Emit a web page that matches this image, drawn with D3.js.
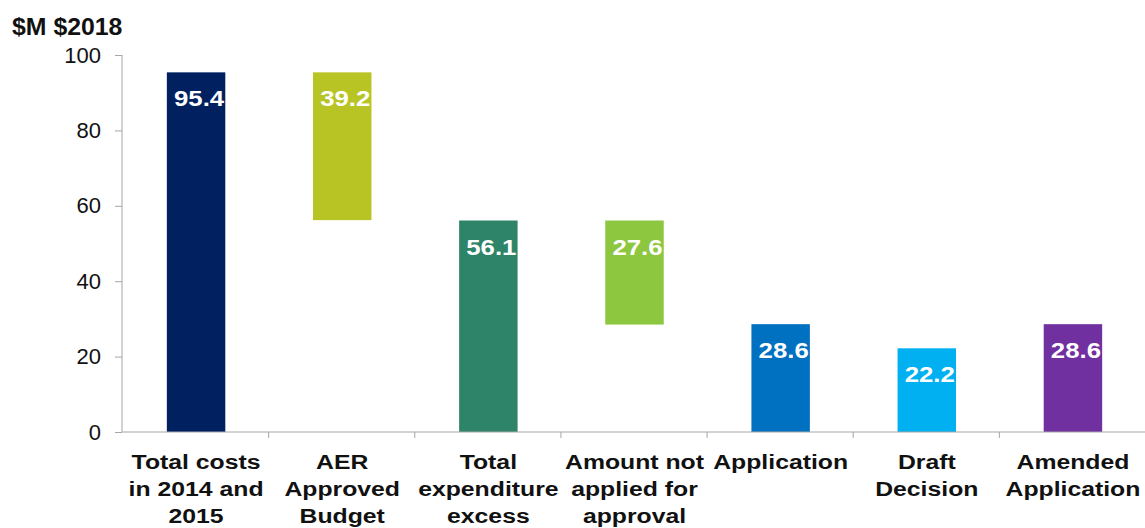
<!DOCTYPE html>
<html>
<head>
<meta charset="utf-8">
<script src="https://cdn.jsdelivr.net/npm/d3@7"></script>
<style>
  body { margin: 0; background: #fff; }
  text { font-family: "Liberation Sans", Arial, sans-serif; }
</style>
</head>
<body>
<div id="chart"></div>
<script>
// waterfall values ($M $2018)
const categories = [
  ["Total costs", "in 2014 and", "2015"],
  ["AER", "Approved", "Budget"],
  ["Total", "expenditure", "excess"],
  ["Amount not", "applied for", "approval"],
  ["Application"],
  ["Draft", "Decision"],
  ["Amended", "Application"]
];
const bases = [0, 56.2, 0, 28.5, 0, 0, 0];
const values = [95.4, 39.2, 56.1, 27.6, 28.6, 22.2, 28.6];
const colors = ["#002060", "#B8C424", "#2E8468", "#8DC63F", "#0070C0", "#00B0F0", "#7030A0"];
const yTicks = [0, 20, 40, 60, 80, 100];

const w = 1145, h = 528;
const plotLeft = 122, plotRight = 1145, plotTop = 55, plotBottom = 432;
const sx = 1.12; // text is a bit wide in the original

const svg = d3.select("#chart").append("svg")
  .attr("width", w)
  .attr("height", h);

const x = d3.scaleBand()
  .domain(d3.range(categories.length))
  .range([plotLeft, plotRight])
  .paddingInner(0.6)
  .paddingOuter(0.3);

const y = d3.scaleLinear().domain([0, 100]).range([plotBottom, plotTop]);

// bars
svg.selectAll("rect.bar")
  .data(values)
  .enter()
  .append("rect")
  .attr("class", "bar")
  .attr("x", (d, i) => x(i) + 1)
  .attr("width", x.bandwidth())
  .attr("y", (d, i) => y(bases[i] + d))
  .attr("height", (d, i) => y(bases[i]) - y(bases[i] + d))
  .attr("fill", (d, i) => colors[i]);

// value labels
svg.selectAll("text.val")
  .data(values)
  .enter()
  .append("text")
  .attr("class", "val")
  .attr("transform", (d, i) => "translate(" + (x(i) + x.bandwidth() / 2 + 4) + "," + (y(bases[i] + d) + 34) + ") scale(" + sx + ",1)")
  .attr("text-anchor", "middle")
  .attr("fill", "#fff")
  .attr("font-weight", "bold")
  .attr("font-size", 23)
  .text(d => d.toFixed(1));

// y axis
const yAxis = svg.append("g")
  .attr("transform", "translate(" + plotLeft + ",0)")
  .call(d3.axisLeft(y).tickValues(yTicks).tickSize(7).tickPadding(14));
yAxis.select(".domain").attr("stroke", "#a6a6a6").attr("d", "M0," + plotTop + "V" + plotBottom);
yAxis.selectAll(".tick line").attr("stroke", "#a6a6a6");
yAxis.selectAll(".tick text")
  .attr("font-size", 22)
  .attr("fill", "#111")
  .attr("font-family", "Liberation Sans, Arial, sans-serif");

// x axis with ticks between categories
const xb = d3.scaleLinear().domain([0, categories.length]).range([plotLeft, plotRight]);
const xAxis = svg.append("g")
  .attr("transform", "translate(0," + plotBottom + ")")
  .call(d3.axisBottom(xb).tickValues(d3.range(1, categories.length)).tickFormat("").tickSize(6));
xAxis.select(".domain").attr("stroke", "#a6a6a6").attr("d", "M" + plotLeft + ",0H" + plotRight);
xAxis.selectAll(".tick line").attr("stroke", "#a6a6a6");

// category labels
categories.forEach((lines, i) => {
  lines.forEach((ln, j) => {
    svg.append("text")
      .attr("transform", "translate(" + (x(i) + x.bandwidth() / 2 + 1) + "," + (469 + j * 27) + ") scale(1.18,1)")
      .attr("text-anchor", "middle")
      .attr("font-weight", "bold")
      .attr("font-size", 21)
      .attr("fill", "#111")
      .text(ln);
  });
});

// unit title
svg.append("text")
  .attr("transform", "translate(12,35) scale(1.08,1)")
  .attr("font-weight", "bold")
  .attr("font-size", 23)
  .attr("fill", "#111")
  .text("$M $2018");
</script>
</body>
</html>
